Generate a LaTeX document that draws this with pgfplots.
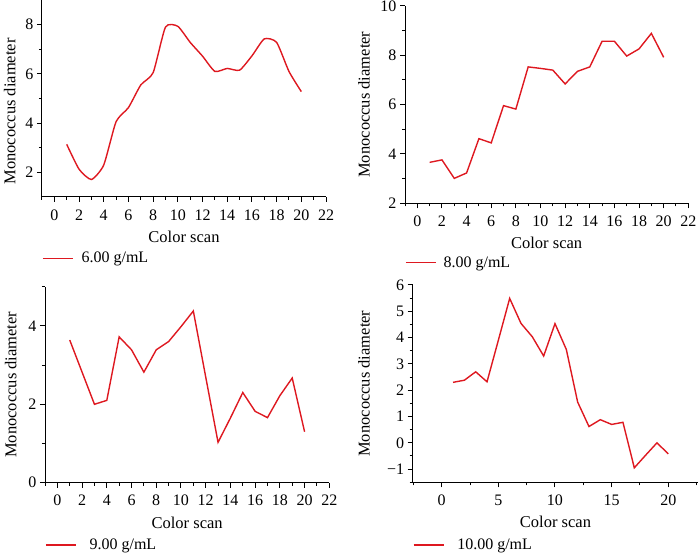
\documentclass[border=0pt]{standalone}
\usepackage{fontspec}
\setmainfont{Liberation Serif}
\usepackage{pgfplots}
\pgfplotsset{compat=1.18}
\definecolor{curve}{RGB}{222,24,32}

\pgfplotsset{
  panel/.style={
    scale only axis,
    anchor=south west,
    axis lines=left,
    axis line style={-, line width=1pt, black},
    tick align=outside,
    major tick length=5pt,
    minor tick length=3pt,
    tick style={black, line width=1pt},
    /pgf/number format/assume math mode=true,
    tick label style={font=\fontsize{16}{19}\selectfont},
    xticklabel style={yshift=-4pt},
    label style={font=\fontsize{16.5}{20}\selectfont},
    xlabel={Color scan},
    ylabel={Monococcus diameter},
    xlabel style={at={(axis description cs:0.5,0)}, anchor=north, inner sep=0pt, yshift=-34pt},
    legend style={draw=none, fill=none, anchor=west, inner sep=0pt,
      font=\fontsize{16}{19}\selectfont},
    legend image code/.code={\draw[##1] (0pt,0pt) -- (30pt,0pt);},
    clip=false,
  },
  curve/.style={color=curve, line width=1.4pt},
}

\begin{document}
\begin{tikzpicture}
\path[use as bounding box] (0,0) rectangle (699pt,553pt);

% 6.00 g/mL
\begin{axis}[panel,
  at={(42pt,356pt)}, width=284pt, height=197pt,
  xmin=-1, xmax=22, ymin=1, ymax=9,
  xtick={0,2,...,22}, minor xtick={-1,1,...,21},
  ytick={2,4,6,8}, minor ytick={3,5,7,9},
  ylabel style={at={([xshift=-32.3pt,yshift=-13pt]axis description cs:0,0.5)}, anchor=center},
  legend style={at={(axis description cs:0,-0.311)}}]
\addplot[curve, smooth, tension=0.35] coordinates {
  (1,3.14) (2,2.13) (3,1.71) (4,2.3) (5,4.06) (6,4.63) (7,5.55) (8,6.05)
  (9,7.9) (10,7.93) (11,7.28) (12,6.72) (13,6.1) (14,6.22) (15,6.15)
  (16,6.73) (17,7.42) (18,7.28) (19,6.1) (20,5.28)};
\legend{\hspace{6pt}6.00 g/mL}
\end{axis}

% 8.00 g/mL
\begin{axis}[panel,
  at={(405pt,349.7pt)}, width=283.3pt, height=197.3pt,
  xmin=-1, xmax=22, ymin=2, ymax=10,
  xtick={0,2,...,22}, minor xtick={-1,1,...,21},
  ytick={2,4,...,10}, minor ytick={3,5,7,9},
  ylabel style={at={([xshift=-41pt]axis description cs:0,0.5)}, anchor=center},
  legend style={at={(axis description cs:0,-0.301)}}]
\addplot[curve] coordinates {
  (1,3.66) (2,3.76) (3,3.01) (4,3.23) (5,4.62) (6,4.45) (7,5.96) (8,5.82)
  (9,7.53) (10,7.47) (11,7.4) (12,6.84) (13,7.35) (14,7.53) (15,8.57)
  (16,8.57) (17,7.97) (18,8.26) (19,8.89) (20,7.92)};
\legend{\hspace{5pt}8.00 g/mL}
\end{axis}

% 9.00 g/mL
\begin{axis}[panel,
  at={(45pt,70.3pt)}, width=284.3pt, height=196pt,
  xmin=-1, xmax=22, ymin=0, ymax=5,
  xtick={0,2,...,22}, minor xtick={-1,1,...,21},
  ytick={0,2,4}, minor ytick={1,3,5},
  ylabel style={at={([xshift=-34.2pt]axis description cs:0,0.5)}, anchor=center},
  legend style={at={(axis description cs:0,-0.318)}}]
\addplot[curve] coordinates {
  (1,3.64) (2,2.82) (3,2.0) (4,2.1) (5,3.72) (6,3.39) (7,2.82) (8,3.39)
  (9,3.6) (10,3.98) (11,4.38) (12,2.7) (13,1.03) (14,1.65) (15,2.3)
  (16,1.82) (17,1.66) (18,2.22) (19,2.67) (20,1.3)};
\legend{\hspace{11pt}9.00 g/mL}
\end{axis}

% 10.00 g/mL
\begin{axis}[panel,
  at={(412.7pt,70.7pt)}, width=285.6pt, height=197.3pt,
  xmin=-2.56, xmax=22.65, ymin=-1.5, ymax=6,
  xtick={0,5,...,20}, minor xtick={-2.5,2.5,7.5,12.5,17.5,22.5},
  ytick={-1,0,...,6}, yticklabels={−1,0,1,2,3,4,5,6},
  minor ytick={-1.5,-0.5,...,5.5},
  ylabel style={at={([xshift=-48.7pt]axis description cs:0,0.5)}, anchor=center},
  legend style={at={(axis description cs:0,-0.318)}}]
\addplot[curve] coordinates {
  (1,2.3) (2,2.38) (3,2.7) (4,2.32) (5,3.9) (6,5.49) (7,4.54) (8,4.03)
  (9,3.3) (10,4.53) (11,3.55) (12,1.55) (13,0.62) (14,0.88) (15,0.7)
  (16,0.78) (17,-0.95) (18,-0.47) (19,0.0) (20,-0.42)};
\legend{\hspace{11pt}10.00 g/mL}
\end{axis}
\end{tikzpicture}
\end{document}
